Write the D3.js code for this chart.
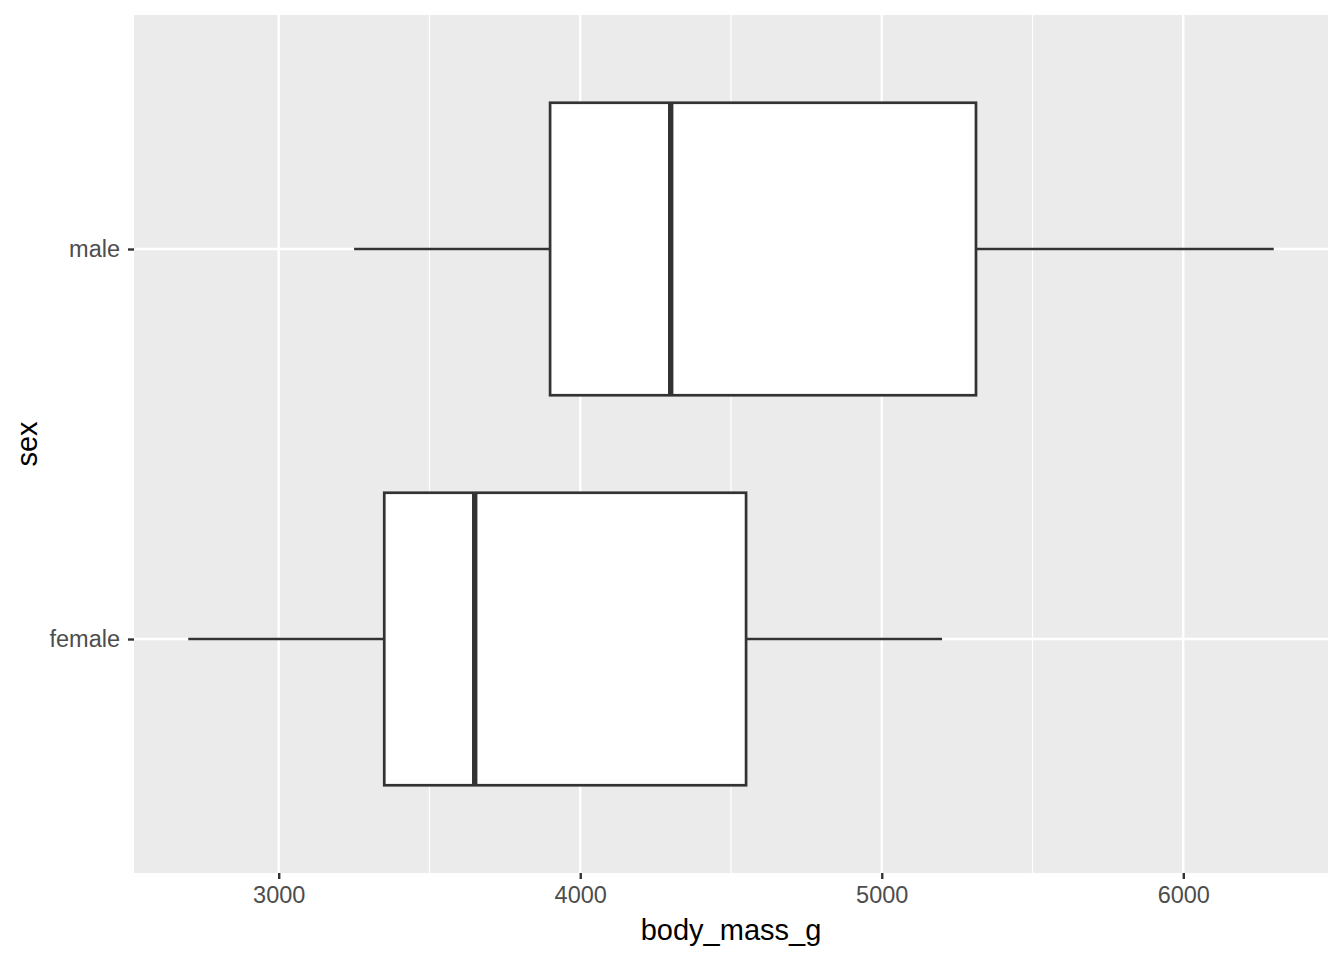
<!DOCTYPE html>
<html>
<head>
<meta charset="utf-8">
<script src="https://cdn.jsdelivr.net/npm/d3@7"></script>
<style>
  body { margin: 0; background: #fff; }
  svg { display: block; font-family: "Liberation Sans", Arial, sans-serif; }
</style>
</head>
<body>
<svg id="chart" width="1344" height="960"></svg>
<script>
// Catégories et statistiques des boîtes (g)
const categories = ["female", "male"];
const whiskerLow = [2700, 3250];
const q1 = [3350, 3900];
const median = [3650, 4300];
const q3 = [4550, 5312.5];
const whiskerHigh = [5200, 6300];
const xTicks = [3000, 4000, 5000, 6000];
const xMinor = [2500, 3500, 4500, 5500, 6500];

const svg = d3.select("#chart");
const W = +svg.attr("width");
const H = +svg.attr("height");
const margin = { top: 15, right: 16, bottom: 87, left: 134 };

const data = categories.map((c, i) => ({
  cat: c, lo: whiskerLow[i], q1: q1[i], med: median[i], q3: q3[i], hi: whiskerHigh[i]
}));

// Échelle horizontale avec l'expansion de 5 % de ggplot
const lo = d3.min(whiskerLow), hi = d3.max(whiskerHigh);
const pad = (hi - lo) * 0.05;
const x = d3.scaleLinear()
  .domain([lo - pad, hi + pad])
  .range([margin.left, W - margin.right]);

// Échelle verticale discrète (expansion 0.6)
const n = categories.length;
const yPos = d3.scaleLinear()
  .domain([0.4, n + 0.6])
  .range([H - margin.bottom, margin.top]);
const y = c => yPos(categories.indexOf(c) + 1);
const step = Math.abs(yPos(2) - yPos(1));
const boxH = step * 0.75;

// Fond du panneau
svg.append("rect")
  .attr("x", margin.left).attr("y", margin.top)
  .attr("width", W - margin.left - margin.right)
  .attr("height", H - margin.top - margin.bottom)
  .attr("fill", "#ebebeb");

// Grille mineure puis majeure
svg.append("g").selectAll("line")
  .data(xMinor.filter(v => x(v) > margin.left && x(v) < W - margin.right))
  .join("line")
  .attr("x1", d => x(d)).attr("x2", d => x(d))
  .attr("y1", margin.top).attr("y2", H - margin.bottom)
  .attr("stroke", "#fff").attr("stroke-width", 1.2);

svg.append("g").selectAll("line")
  .data(xTicks)
  .join("line")
  .attr("x1", d => x(d)).attr("x2", d => x(d))
  .attr("y1", margin.top).attr("y2", H - margin.bottom)
  .attr("stroke", "#fff").attr("stroke-width", 2.4);

svg.append("g").selectAll("line")
  .data(categories)
  .join("line")
  .attr("x1", margin.left).attr("x2", W - margin.right)
  .attr("y1", d => y(d)).attr("y2", d => y(d))
  .attr("stroke", "#fff").attr("stroke-width", 2.4);

// Boîtes à moustaches
const g = svg.append("g").selectAll("g").data(data).join("g");

g.append("line")
  .attr("x1", d => x(d.lo)).attr("x2", d => x(d.q1))
  .attr("y1", d => y(d.cat)).attr("y2", d => y(d.cat))
  .attr("stroke", "#333").attr("stroke-width", 2.7);

g.append("line")
  .attr("x1", d => x(d.q3)).attr("x2", d => x(d.hi))
  .attr("y1", d => y(d.cat)).attr("y2", d => y(d.cat))
  .attr("stroke", "#333").attr("stroke-width", 2.7);

g.append("rect")
  .attr("x", d => x(d.q1)).attr("width", d => x(d.q3) - x(d.q1))
  .attr("y", d => y(d.cat) - boxH / 2).attr("height", boxH)
  .attr("fill", "#fff").attr("stroke", "#333").attr("stroke-width", 2.7);

g.append("line")
  .attr("x1", d => x(d.med)).attr("x2", d => x(d.med))
  .attr("y1", d => y(d.cat) - boxH / 2).attr("y2", d => y(d.cat) + boxH / 2)
  .attr("stroke", "#333").attr("stroke-width", 5.4);

// Axe des x
const xAxis = svg.append("g")
  .attr("transform", `translate(0,${H - margin.bottom})`)
  .call(d3.axisBottom(x).tickValues(xTicks).tickSize(6).tickPadding(7).tickFormat(d3.format("d")));
xAxis.select(".domain").remove();
xAxis.selectAll("line").attr("stroke", "#333").attr("stroke-width", 2.4);
xAxis.selectAll("text").attr("fill", "#4d4d4d").style("font-size", "23.5px")
  .style("font-family", "Liberation Sans, Arial, sans-serif");

// Axe des y
const yAxis = svg.append("g")
  .attr("transform", `translate(${margin.left},0)`)
  .call(d3.axisLeft(d3.scalePoint().domain(categories).range([y(categories[0]), y(categories[1])]))
    .tickSize(6).tickPadding(8));
yAxis.select(".domain").remove();
yAxis.selectAll("line").attr("stroke", "#333").attr("stroke-width", 2.4);
yAxis.selectAll("text").attr("fill", "#4d4d4d").style("font-size", "23.5px")
  .style("font-family", "Liberation Sans, Arial, sans-serif");

// Titres des axes
svg.append("text")
  .attr("x", (margin.left + W - margin.right) / 2)
  .attr("y", 940)
  .attr("text-anchor", "middle")
  .style("font-size", "29px")
  .text("body_mass_g");

svg.append("text")
  .attr("transform", `translate(37,${(margin.top + H - margin.bottom) / 2}) rotate(-90)`)
  .attr("text-anchor", "middle")
  .style("font-size", "29px")
  .text("sex");
</script>
</body>
</html>
